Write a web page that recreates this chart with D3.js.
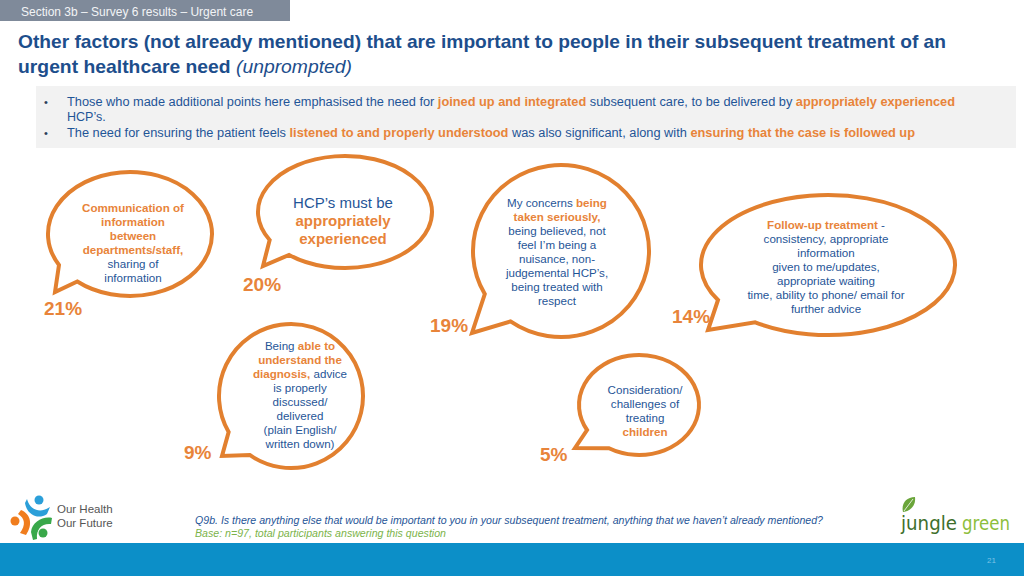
<!DOCTYPE html>
<html><head><meta charset="utf-8">
<script src="https://cdn.jsdelivr.net/npm/d3@7"></script>
<style>
body{margin:0;background:#fff;}
svg{display:block;}
</style></head><body>
<svg id="c" width="1024" height="576"></svg>
<script>
// ---------- DATA ----------
const sectionLabel = "Section 3b \u2013 Survey 6 results \u2013 Urgent care";
const titleLine1 = "Other factors (not already mentioned) that are important to people in their subsequent treatment of an";
const titleLine2 = "urgent healthcare need";
const titleItalic = "(unprompted)";
const bulletLines = [
  [["Those who made additional points here emphasised the need for ",0],["joined up and integrated",1],[" subsequent care, to be delivered by ",0],["appropriately experienced",1]],
  [["HCP\u2019s.",0]],
  [["The need for ensuring the patient feels ",0],["listened to and properly understood",1],[" was also significant, along with ",0],["ensuring that the case is followed up",1]]
];
const values = [21, 20, 19, 14, 9, 5];
const categories = [
  [[["Communication of",1]],[["information",1]],[["between",1]],[["departments/staff,",1]],[["sharing of",0]],[["information",0]]],
  [[["HCP\u2019s must be",0]],[["appropriately",1]],[["experienced",1]]],
  [[["My concerns ",0],["being",1]],[["taken seriously,",1]],[["being believed, not",0]],[["feel I\u2019m being a",0]],[["nuisance, non-",0]],[["judgemental HCP\u2019s,",0]],[["being treated with",0]],[["respect",0]]],
  [[["Follow-up treatment",1],[" -",0]],[["consistency, appropriate",0]],[["information",0]],[["given to me/updates,",0]],[["appropriate waiting",0]],[["time, ability to phone/ email for",0]],[["further advice",0]]],
  [[["Being ",0],["able to",1]],[["understand the",1]],[["diagnosis,",1],[" advice",0]],[["is properly",0]],[["discussed/",0]],[["delivered",0]],[["(plain English/",0]],[["written down)",0]]],
  [[["Consideration/",0]],[["challenges of",0]],[["treating",0]],[["children",1]]]
];
const questionText = "Q9b. Is there anything else that would be important to you in your subsequent treatment, anything that we haven\u2019t already mentioned?";
const baseText = "Base: n=97, total participants answering this question";
const logoWords = ["jungle", "green"];
const pageNumber = "21";

// ---------- LAYOUT ----------
const layout = [
  {cx:130, cy:234, rx:82, ry:62, a1:130, a2:150, tip:[55,292], tx:133, ty:212, lh:14, fs:11.6, px:44, py:315},
  {cx:345, cy:212, rx:87, ry:56, a1:130, a2:150, tip:[263,266], tx:343, ty:208, lh:18, fs:15, px:243, py:291},
  {cx:561, cy:251, rx:88, ry:86, a1:125, a2:150, tip:[472,333], tx:557, ty:207, lh:14, fs:11.6, px:430, py:332},
  {cx:828, cy:265, rx:127, ry:70, a1:125, a2:150, tip:[708,330], tx:826, ty:229, lh:14, fs:11.6, px:672, py:323},
  {cx:291, cy:396, rx:72, ry:72, a1:125, a2:150, tip:[222,456], tx:300, ty:350, lh:14, fs:11.6, px:184, py:459},
  {cx:639, cy:405, rx:60, ry:50, a1:120, a2:150, tip:[575,448], tx:645, ty:394, lh:14, fs:11.6, px:540, py:461}
];
const ORANGE = "#e8843a", STROKE = "#e2802f", BLUE = "#1f5597", TITLE = "#1d4e8c";
const FONT = "'Liberation Sans', Arial, sans-serif";
const NARROW = "'Liberation Sans Narrow', 'Arial Narrow', 'Liberation Sans', sans-serif";

const svg = d3.select("#c");

function fit(sel, w){
  const n = sel.node(); const L = n.getComputedTextLength();
  if (Math.abs(L - w) > 2) sel.attr("textLength", w).attr("lengthAdjust", "spacingAndGlyphs");
}

// header
svg.append("rect").attr("x",0).attr("y",0).attr("width",290).attr("height",21).attr("fill","#7f8a9a");
svg.append("text").attr("x",21).attr("y",15.5).attr("font-family",FONT).attr("font-size",12).attr("fill","#f2f4f6").text(sectionLabel);

// title
const t1 = svg.append("text").attr("x",18).attr("y",48).attr("font-family",NARROW).attr("font-weight","bold").attr("font-size",19).attr("fill",TITLE).text(titleLine1);
fit(t1, 928);
const t2 = svg.append("text").attr("x",18).attr("y",73).attr("font-family",NARROW).attr("font-size",19).attr("fill",TITLE);
t2.append("tspan").attr("font-weight","bold").text(titleLine2 + " ");
t2.append("tspan").attr("font-style","italic").text(titleItalic);
fit(t2, 334);

// bullet box
svg.append("rect").attr("x",36).attr("y",86).attr("width",980).attr("height",62).attr("fill","#f2f2f2");
const bY = [106, 121, 137];
const bW = [888, null, 848];
bulletLines.forEach((segs,i)=>{
  if (i !== 1) svg.append("text").attr("x",44).attr("y",bY[i]).attr("font-family",FONT).attr("font-size",11).attr("fill","#2b3e5c").text("\u2022");
  const t = svg.append("text").attr("x",67).attr("y",bY[i]).attr("font-family",NARROW).attr("font-size",12.5).attr("fill",BLUE);
  segs.forEach(s=>t.append("tspan").attr("fill", s[1]?ORANGE:BLUE).attr("font-weight", s[1]?"bold":"normal").text(s[0]));
  if (bW[i]) fit(t, bW[i]);
});

// speech bubbles
const rad = d => d*Math.PI/180;
function bubblePath(g){
  const p = a => [g.cx + g.rx*Math.cos(rad(a)), g.cy + g.ry*Math.sin(rad(a))];
  const p1 = p(g.a1), p2 = p(g.a2);
  return `M${p2[0]},${p2[1]} A${g.rx},${g.ry} 0 1 1 ${p1[0]},${p1[1]} L${g.tip[0]},${g.tip[1]} Z`;
}

const bubbles = svg.selectAll("g.bubble").data(values.map((v,i)=>({v, lines:categories[i], g:layout[i]})))
  .join("g").attr("class","bubble");

bubbles.append("path").attr("d", d=>bubblePath(d.g)).attr("fill","#fff").attr("stroke",STROKE).attr("stroke-width",4).attr("stroke-linejoin","miter");

bubbles.each(function(d){
  const g = d3.select(this);
  d.lines.forEach((segs, j)=>{
    const t = g.append("text").attr("x", d.g.tx).attr("y", d.g.ty + j*d.g.lh)
      .attr("text-anchor","middle").attr("font-family",FONT).attr("font-size",d.g.fs);
    segs.forEach(s=>t.append("tspan").attr("fill", s[1]?ORANGE:BLUE).attr("font-weight", s[1]?"bold":"normal").text(s[0]));
  });
  g.append("text").attr("x", d.g.px).attr("y", d.g.py).attr("font-family",FONT).attr("font-weight","bold")
    .attr("font-size",19).attr("fill",ORANGE).text(d.v + "%");
});

// footer logo: Our Health Our Future
const logo = svg.append("g");
logo.append("circle").attr("cx",39).attr("cy",500).attr("r",4.5).attr("fill","#2b9fd9");
logo.append("path").attr("d","M27,499 C30,510 40,514 50,507 L47,514 C38,520 27,515 25,503 Z").attr("fill","#2b9fd9");
logo.append("circle").attr("cx",15).attr("cy",521).attr("r",4.5).attr("fill","#f07d1e");
logo.append("path").attr("d","M21,510 C31,514 33,525 26,535 L20,533 C26,525 25,518 18,514 Z").attr("fill","#f07d1e");
logo.append("circle").attr("cx",43).attr("cy",533).attr("r",4.5).attr("fill","#39a84a");
logo.append("path").attr("d","M52,518 C43,516 32,522 31,532 L33,540 L37,539 C36,529 42,523 51,524 Z").attr("fill","#39a84a");
logo.append("text").attr("x",57).attr("y",513).attr("font-family",FONT).attr("font-size",11.5).attr("fill","#555").text("Our Health");
logo.append("text").attr("x",57).attr("y",527).attr("font-family",FONT).attr("font-size",11.5).attr("fill","#555").text("Our Future");

// footer text
const q = svg.append("text").attr("x",195).attr("y",524).attr("font-family",NARROW).attr("font-style","italic").attr("font-size",10).attr("fill",BLUE).text(questionText);
fit(q, 628);
const b = svg.append("text").attr("x",195).attr("y",537).attr("font-family",NARROW).attr("font-style","italic").attr("font-size",10).attr("fill","#7bb34a").text(baseText);
fit(b, 251);

// jungle green logo
const jg = svg.append("g");
jg.append("path").attr("d","M903,512 C901,504 906,497 915,497 C916,505 911,511 903,512 Z").attr("fill","#6aa53a");
jg.append("path").attr("d","M904,511 L913,499").attr("stroke","#fff").attr("stroke-width",0.8);
const j1 = jg.append("text").attr("x",901).attr("y",530).attr("font-family","'DejaVu Sans', sans-serif").attr("font-size",19).attr("fill","#3e6f2c").text(logoWords[0]);
fit(j1, 56);
const j2 = jg.append("text").attr("x",962).attr("y",530).attr("font-family","'DejaVu Sans', sans-serif").attr("font-size",19).attr("fill","#8dbe3c").text(logoWords[1]);
fit(j2, 48);

// bottom band
svg.append("rect").attr("x",0).attr("y",543).attr("width",1024).attr("height",33).attr("fill","#0c8fc8");
svg.append("text").attr("x",996).attr("y",563).attr("text-anchor","end").attr("font-family",FONT).attr("font-size",8).attr("fill","#7cc3e6").text(pageNumber);
</script>
</body></html>
